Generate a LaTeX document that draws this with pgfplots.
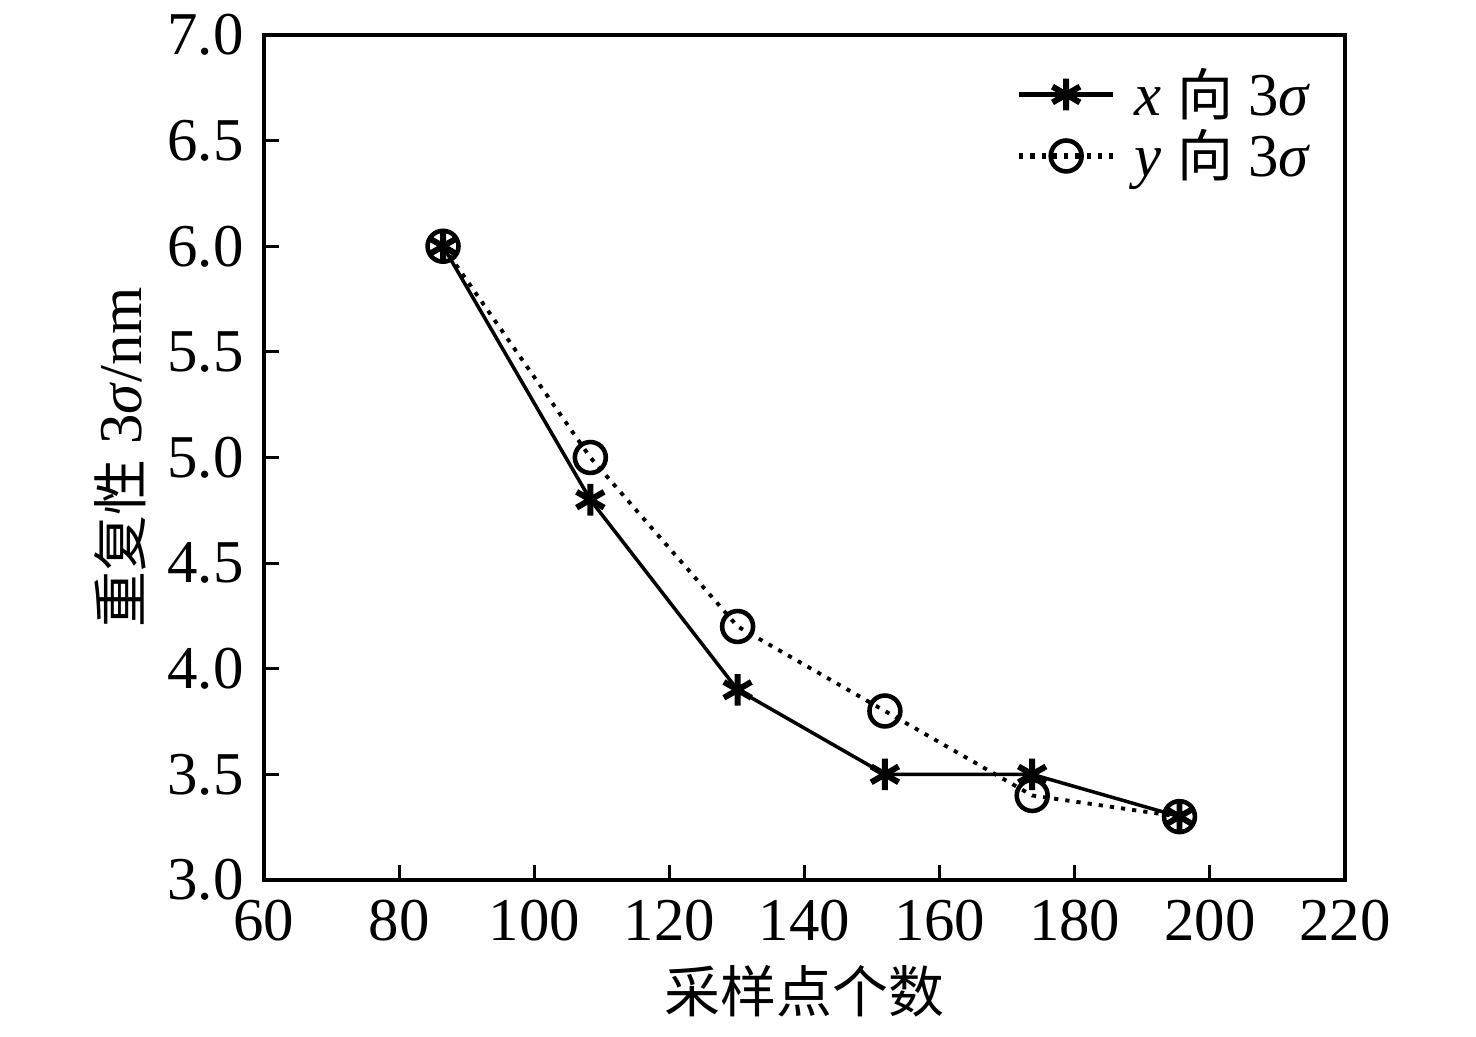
\documentclass[border=0pt]{standalone}
\usepackage{fontspec}
\setmainfont{Liberation Serif}
\newfontfamily\cjk[Scale=0.92]{Noto Sans CJK SC}
\usepackage{pgfplots}
\pgfplotsset{compat=1.18}
\begin{document}
\begin{tikzpicture}
\path[use as bounding box] (-2.64cm,-1.57cm) rectangle (12.12cm,8.80cm);
\begin{axis}[
  scale only axis, width=10.81cm, height=8.45cm,
  xmin=60, xmax=220, ymin=3, ymax=7,
  xtick={60,80,...,220}, ytick={3,3.5,...,7},
  tick pos=left, tick align=inside,
  major tick length=1.5mm,
  axis line style={line width=0.9pt},
  every tick/.style={black, line width=0.9pt},
  yticklabel style={/pgf/number format/fixed, /pgf/number format/fixed zerofill, /pgf/number format/precision=1},
  /pgf/number format/assume math mode=true,
  font=\fontsize{17.3}{20}\selectfont,
  xticklabel style={yshift=-0.8mm},
  yticklabel style={xshift=-0.8mm},
  xlabel={\cjk 采样点个数},
  ylabel={{\cjk 重复性} 3\textit{σ}/nm},
  ylabel style={yshift=-0.3mm},
  legend style={draw=none, fill=none, at={(0.985,0.978)}, anchor=north east, font=\fontsize{17.3}{20}\selectfont, row sep=-0.5mm},
  legend cell align=left,
  legend image code/.code={\draw[mark repeat=2,mark phase=2,line width=1.5pt] plot coordinates {(0cm,0cm) (0.47cm,0cm) (0.94cm,0cm)};},
]
\addplot[black, line width=1pt, mark=asterisk, mark size=4.5pt, mark options={solid, line width=1.7pt}]
  coordinates {(86.5,6.0) (108.3,4.8) (130.1,3.9) (151.9,3.5) (173.7,3.5) (195.5,3.3)};
\addlegendentry{\hspace{1.2mm}\textit{x} {\cjk 向} 3\textit{σ}}
\addplot[black, line width=1.1pt, dash pattern=on 1.2pt off 2pt, mark=o, mark size=4.4pt, mark options={solid, line width=1.3pt}]
  coordinates {(86.5,6.0) (108.3,5.0) (130.1,4.2) (151.9,3.8) (173.7,3.4) (195.5,3.3)};
\addlegendentry{\hspace{1.2mm}\textit{y} {\cjk 向} 3\textit{σ}}
\end{axis}
\end{tikzpicture}
\end{document}
